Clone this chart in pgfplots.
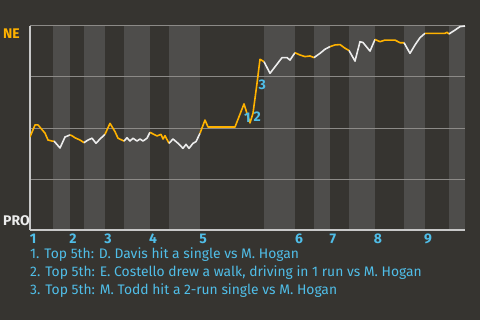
\documentclass[border=0pt]{standalone}
\usepackage{fontspec}
\setmainfont{Fira Sans}
\usepackage{pgfplots}
\pgfplotsset{compat=1.18}
\definecolor{bg}{RGB}{54,52,48}
\definecolor{band}{RGB}{78,77,75}
\definecolor{ne}{RGB}{255,178,0}
\definecolor{pro}{RGB}{236,236,236}
\definecolor{lab}{RGB}{80,190,232}
\definecolor{gridc}{RGB}{140,138,135}
\definecolor{axl}{RGB}{200,200,200}
\pagecolor{bg}
\begin{document}
\begin{tikzpicture}
\path (0,0) rectangle (480bp,320bp);
\begin{axis}[
  set layers,
  at={(30bp,90bp)}, anchor=south west,
  width=435bp, height=204bp, scale only axis,
  xmin=30, xmax=465, ymin=0, ymax=100,
  axis lines*=left,
  axis line style={axl, line width=1.2pt},
  xtick=\empty, ytick={25,50,75,100}, yticklabels={},
  major tick length=0pt,
  ymajorgrids, major grid style={gridc, line width=1pt},
  every axis plot/.append style={line width=1.6pt, line join=round},
]
\pgfplotsextra{%
\begin{pgfonlayer}{axis background}
\fill[band] (axis cs:53,0) rectangle (axis cs:70,100);
\fill[band] (axis cs:84,0) rectangle (axis cs:105,100);
\fill[band] (axis cs:124,0) rectangle (axis cs:150,100);
\fill[band] (axis cs:169,0) rectangle (axis cs:200,100);
\fill[band] (axis cs:264,0) rectangle (axis cs:295,100);
\fill[band] (axis cs:314,0) rectangle (axis cs:330,100);
\fill[band] (axis cs:349,0) rectangle (axis cs:375,100);
\fill[band] (axis cs:404,0) rectangle (axis cs:425,100);
\fill[band] (axis cs:449,0) rectangle (axis cs:465,100);
\end{pgfonlayer}}
% top halves (NE batting)
\addplot[ne] coordinates {(30,45.6) (35,51.5) (38,51.5) (45,47.5) (48,44.1) (52,43.6) (54,43.6)};
\addplot[pro] coordinates {(54,43.6) (60,40.2) (65,45.6) (70,46.6)};
\addplot[ne] coordinates {(70,46.6) (72,46.2) (75,45.2) (80,44.1) (84,42.8)};
\addplot[pro] coordinates {(84,42.8) (88,44.1) (92,45.0) (96,42.5) (100,44.6) (105,46.9)};
\addplot[ne] coordinates {(105,46.9) (110,52.3) (115,48.2) (118,45.0) (124,43.6)};
\addplot[pro] coordinates {(124,43.6) (127,45.2) (130,43.6) (133,45.0) (137,43.6) (140,44.6) (143,43.6) (147,45.0) (150,47.9)};
\addplot[ne] coordinates {(150,47.9) (153,47.1) (157,46.1) (161,46.9) (163,44.6) (165,46.2) (169,42.5)};
\addplot[pro] coordinates {(169,42.5) (173,44.6) (178,42.5) (183,40.0) (186,42.0) (189,40.0) (193,42.5) (196,43.3) (200,47.4)};
\addplot[ne] coordinates {(200,47.4) (205,53.9) (208,50.5) (235,50.5) (244,61.8) (250,52.5) (253,57.2) (257,71.9) (260,83.7) (264,82.5)};
\addplot[pro] coordinates {(264,82.5) (270,76.8) (275,80.0) (282,84.5) (287,84.5) (290,83.3) (295,86.9)};
\addplot[ne] coordinates {(295,86.9) (300,85.8) (305,85.0) (310,85.3) (314,84.5)};
\addplot[pro] coordinates {(314,84.5) (320,86.6) (325,88.6) (330,89.9)};
\addplot[ne] coordinates {(330,89.9) (335,90.7) (340,90.9) (345,89.1) (349,88.0)};
\addplot[pro] coordinates {(349,88.0) (355,82.8) (360,92.3) (363,91.9) (370,87.7) (375,93.4)};
\addplot[ne] coordinates {(375,93.4) (380,92.3) (385,93.1) (395,93.1) (400,91.8) (404,91.8)};
\addplot[pro] coordinates {(404,91.8) (410,86.6) (415,90.7) (420,94.3) (425,96.4)};
\addplot[ne] coordinates {(425,96.4) (430,96.4) (445,96.4) (447,96.9) (449,96.1)};
\addplot[pro] coordinates {(449,96.1) (455,98.0) (460,99.7) (465,100)};
% event labels
\node[lab, font=\fontsize{14}{14}\bfseries\selectfont, inner sep=0pt] at (axis cs:247.3,55.2) {1};
\node[lab, font=\fontsize{14}{14}\bfseries\selectfont, inner sep=0pt] at (axis cs:257.3,55.4) {2};
\node[lab, font=\fontsize{14}{14}\bfseries\selectfont, inner sep=0pt] at (axis cs:262.3,71.1) {3};
\end{axis}
% side labels
\node[ne, font=\fontsize{14}{14}\bfseries\selectfont, anchor=base west, inner sep=0pt] at (3bp,281.7bp) {NE};
\node[pro, font=\fontsize{14}{14}\bfseries\selectfont, anchor=base west, inner sep=0pt] at (3bp,94bp) {PRO};
% inning numbers
\foreach \xx/\t in {33/1,73/2,108/3,153/4,203/5,299/6,333/7,378/8,428/9}
  \node[lab, font=\fontsize{14}{14}\bfseries\selectfont, anchor=base, inner sep=0pt] at (\xx bp,76.7bp) {\t};
% notes
\begin{scope}[every node/.style={lab, font=\fontsize{13.9}{14}\selectfont, anchor=base west, inner sep=0pt}]
\node at (30bp,61bp) {1. Top 5th: D. Davis hit a single vs M. Hogan};
\node at (30bp,43.3bp) {2. Top 5th: E. Costello drew a walk, driving in 1 run vs M. Hogan};
\node at (30bp,25.7bp) {3. Top 5th: M. Todd hit a 2-run single vs M. Hogan};
\end{scope}
\end{tikzpicture}
\end{document}
